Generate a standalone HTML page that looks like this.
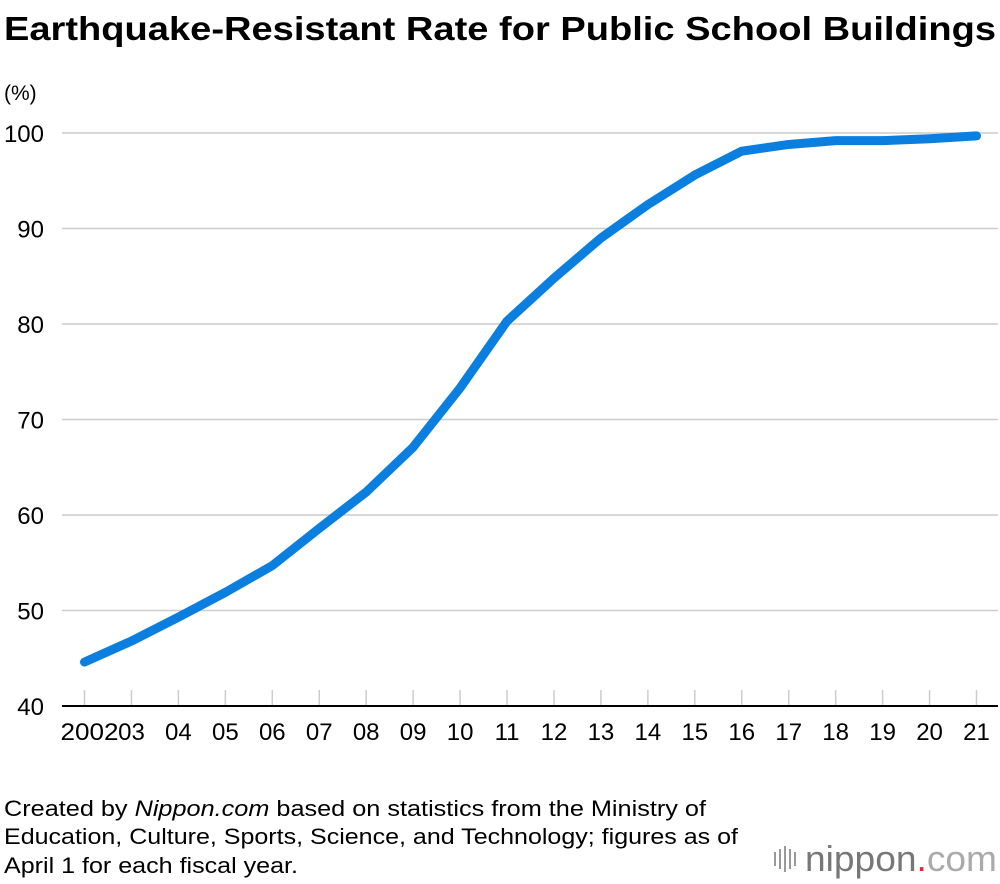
<!DOCTYPE html>
<html><head><meta charset="utf-8"><style>
body{margin:0;width:1000px;height:884px;background:#fff;font-family:"Liberation Sans",sans-serif;overflow:hidden}
svg{position:absolute;left:0;top:0}
</style></head><body>
<svg width="1000" height="884">
<text x="4" y="40" font-size="33" font-weight="bold" fill="#000" textLength="992" lengthAdjust="spacingAndGlyphs">Earthquake-Resistant Rate for Public School Buildings</text>
<text x="4" y="100" font-size="21" fill="#000">(%)</text>
<g id="grid"></g><g id="ticks"></g><g id="labels"></g>
<path id="line" fill="none" stroke="#0a7fe0" stroke-width="9" stroke-linecap="round" stroke-linejoin="round"/>
<text x="4" y="816" font-size="22" textLength="702" lengthAdjust="spacingAndGlyphs">Created by <tspan font-style="italic">Nippon.com</tspan> based on statistics from the Ministry of</text>
<text x="4" y="844" font-size="22" textLength="734" lengthAdjust="spacingAndGlyphs">Education, Culture, Sports, Science, and Technology; figures as of</text>
<text x="4" y="873" font-size="22" textLength="294" lengthAdjust="spacingAndGlyphs">April 1 for each fiscal year.</text>
<g fill="#999">
<rect x="774" y="852" width="2" height="14"/><rect x="779" y="849" width="2" height="20"/><rect x="784" y="846" width="2" height="26"/><rect x="789" y="849" width="2" height="20"/><rect x="794" y="852" width="2" height="14"/>
<text x="805" y="871" font-size="36" fill="#777" textLength="192" lengthAdjust="spacingAndGlyphs">nippon<tspan fill="#e8252f">.</tspan><tspan fill="#aaa">com</tspan></text>
</g>
</svg>
<script>
const years=["2002","03","04","05","06","07","08","09","10","11","12","13","14","15","16","17","18","19","20","21"];
const rates=[44.6,46.8,49.3,51.9,54.7,58.6,62.4,67.1,73.3,80.3,84.8,89.0,92.5,95.6,98.1,98.8,99.2,99.2,99.4,99.7];
const yTicks=[40,50,60,70,80,90,100];
const ns="http://www.w3.org/2000/svg";
const X=i=>84.5+i*(976.5-84.5)/(years.length-1);
const Y=v=>706-(v-40)*(706-133)/60;
const grid=document.getElementById('grid'),ticks=document.getElementById('ticks'),labels=document.getElementById('labels');
yTicks.forEach(v=>{
 const l=document.createElementNS(ns,'line');
 l.setAttribute('x1',62);l.setAttribute('x2',998);l.setAttribute('y1',Y(v));l.setAttribute('y2',Y(v));
 l.setAttribute('stroke',v===40?'#000':'#ccc');l.setAttribute('stroke-width',v===40?2:1.5);
 
 
 grid.appendChild(l);
 const t=document.createElementNS(ns,'text');
 t.setAttribute('x',44);t.setAttribute('y',Y(v)+9);t.setAttribute('text-anchor','end');t.setAttribute('font-size',24);
 t.textContent=v;
 
 
 labels.appendChild(t);
});
years.forEach((y,i)=>{
 const l=document.createElementNS(ns,'line');
 l.setAttribute('x1',X(i));l.setAttribute('x2',X(i));l.setAttribute('y1',690);l.setAttribute('y2',705);
 l.setAttribute('stroke','#ccc');l.setAttribute('stroke-width',1.5);
 
 
 ticks.appendChild(l);
 const t=document.createElementNS(ns,'text');
 t.setAttribute('x',i===0?X(i)+5:X(i));t.setAttribute('y',740);t.setAttribute('text-anchor','middle');t.setAttribute('font-size',24);
 if(i===0){t.setAttribute('textLength',58);t.setAttribute('lengthAdjust','spacingAndGlyphs');}
 t.textContent=y;
 
 
 labels.appendChild(t);
});
document.getElementById('line').setAttribute('d',rates.map((v,i)=>(i?'L':'M')+X(i)+','+Y(v)).join(''));
</script>
</body></html>
